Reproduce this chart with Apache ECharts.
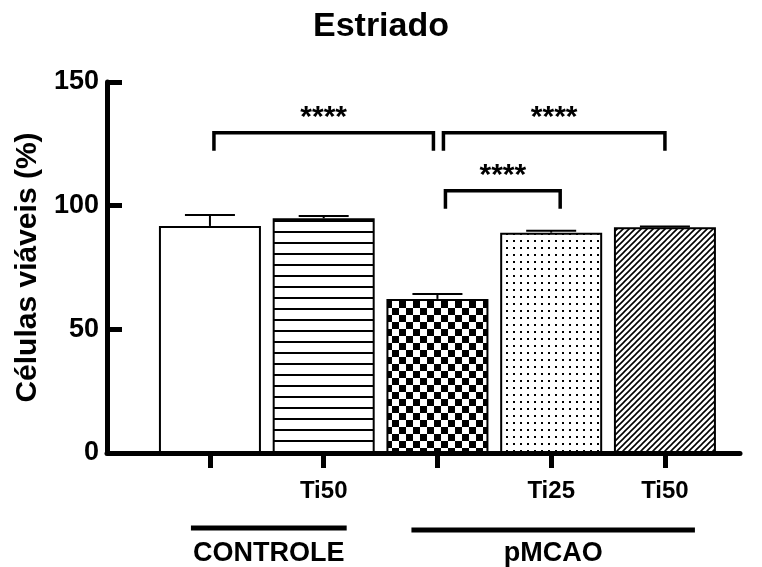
<!DOCTYPE html>
<html>
<head>
<meta charset="utf-8">
<script src="https://cdn.jsdelivr.net/npm/echarts@6/dist/echarts.min.js"></script>
<style>html,body{margin:0;padding:0;background:#fff}#c{width:762px;height:567px}</style>
</head>
<body>
<div id="c"></div>
<script>
// ---- data ----
const categories = ['', 'Ti50', '', 'Ti25', 'Ti50'];
const means = [91.8, 94.9, 62.3, 89.1, 91.3];
const sem = [4.4, 0.9, 2.0, 0.8, 0.3];
const yTicks = [0, 50, 100, 150];
const compFrom = [0, 2, 2];
const compTo = [2, 4, 3];
const compHeight = [129.5, 129.5, 106];
const compLabel = ['****', '****', '****'];
const groupNames = ['CONTROLE', 'pMCAO'];
const groupFrom = [0, 2];
const groupTo = [1, 4];
const title = 'Estriado';
const yName = 'Células viáveis (%)';

// ---- patterns ----
function mk(w, h, draw) {
  const c = document.createElement('canvas');
  c.width = w; c.height = h;
  const g = c.getContext('2d');
  g.fillStyle = '#fff'; g.fillRect(0, 0, w, h);
  g.fillStyle = '#000'; g.strokeStyle = '#000';
  draw(g, w, h);
  return c;
}
const patWhite = '#ffffff';
const patHLines = mk(11, 11, (g) => { g.fillRect(0, 0, 11, 2); });
const patCheck = mk(14, 14, (g) => { g.fillRect(0, 0, 7, 7); g.fillRect(7, 7, 7, 7); });
const patDots = mk(7, 7, (g) => { g.fillRect(2, 2, 2, 2); });
const patDiag = mk(6, 6, (g, w, h) => {
  g.lineWidth = 1.6;
  g.beginPath();
  g.moveTo(0, h); g.lineTo(w, 0);
  g.moveTo(-1, 1); g.lineTo(1, -1);
  g.moveTo(w - 1, h + 1); g.lineTo(w + 1, h - 1);
  g.stroke();
});
const fills = [patWhite, {image: patHLines, repeat: 'repeat'}, {image: patCheck, repeat: 'repeat'},
  {image: patDots, repeat: 'repeat'}, {image: patDiag, repeat: 'repeat'}];

const FONT = '"Liberation Sans", Arial, sans-serif';
const NARROW = '"Liberation Sans Narrow", "Arial Narrow", "Liberation Sans", sans-serif';
const idx = categories.map((_, i) => i);
const groupPadL = [19, 26];
const groupPadR = [23, 30];

const chart = echarts.init(document.getElementById('c'), null, {renderer: 'canvas'});
const option = {
  animation: false,
  backgroundColor: '#fff',
  title: {
    text: title, left: 'center', top: 5,
    textStyle: {fontFamily: FONT, fontWeight: 'bold', fontSize: 34, color: '#000'}
  },
  grid: {left: 107, right: 22, top: 82, bottom: 114, containLabel: false},
  xAxis: {
    type: 'value', min: -0.905, max: 4.66,
    axisLine: {show: true, onZero: false, lineStyle: {color: '#000', width: 5}},
    axisTick: {show: true, customValues: idx, length: 15, lineStyle: {color: '#000', width: 5}},
    axisLabel: {
      customValues: idx, margin: 26,
      formatter: (v) => categories[Math.round(v)] || '',
      fontFamily: NARROW, fontWeight: 'bold', fontSize: 24, color: '#000'
    },
    splitLine: {show: false}
  },
  yAxis: {
    type: 'value', min: 0, max: 150, interval: 50,
    name: yName, nameLocation: 'middle', nameGap: 62, nameRotate: 90,
    nameTextStyle: {fontFamily: FONT, fontWeight: 'bold', fontSize: 30, color: '#000'},
    axisLine: {show: true, onZero: false, lineStyle: {color: '#000', width: 5}},
    axisTick: {show: true, inside: true, length: 15, lineStyle: {color: '#000', width: 5}},
    axisLabel: {margin: 8, fontFamily: FONT, fontWeight: 'bold', fontSize: 27, color: '#000',
      formatter: (v) => yTicks.indexOf(v) >= 0 ? String(v) : ''},
    splitLine: {show: false}
  },
  series: [
    {
      type: 'bar', barWidth: 102,
      data: means.map((m, i) => ({value: [i, m], itemStyle: {color: fills[i]}})),
      itemStyle: {borderColor: '#000', borderWidth: 2},
      z: 2
    },
    {
      type: 'custom', z: 3,
      data: means.map((m, i) => [i, m, sem[i]]),
      renderItem: (params, api) => {
        const x = api.value(0), m = api.value(1), e = api.value(2);
        const p0 = api.coord([x, m]);
        const p1 = api.coord([x, m + e]);
        const hw = 25;
        return {type: 'group', children: [
          {type: 'line', shape: {x1: p0[0], y1: p0[1], x2: p1[0], y2: p1[1]}, style: {stroke: '#000', lineWidth: 2}},
          {type: 'line', shape: {x1: p1[0] - hw, y1: p1[1], x2: p1[0] + hw, y2: p1[1]}, style: {stroke: '#000', lineWidth: 2}}
        ]};
      }
    },
    {
      type: 'custom', z: 4, clip: false,
      data: compFrom.map((f, i) => [f, compTo[i], compHeight[i], i]),
      renderItem: (params, api) => {
        const i = api.value(3);
        const a = api.coord([api.value(0), api.value(2)]);
        const b = api.coord([api.value(1), api.value(2)]);
        const leftAdj = [4, 6, 8][i], rightAdj = [-4, 0, 9][i];
        const x1 = a[0] + leftAdj, x2 = b[0] + rightAdj, y = a[1];
        const drop = 18;
        return {type: 'group', children: [
          {type: 'polyline', shape: {points: [[x1, y + drop], [x1, y], [x2, y], [x2, y + drop]]},
            style: {stroke: '#000', lineWidth: 3.5, fill: null}},
          {type: 'text', x: (x1 + x2) / 2, y: y - 15,
            style: {text: compLabel[i], textAlign: 'center', textVerticalAlign: 'middle',
              font: 'bold 30px ' + FONT, fill: '#000'}}
        ]};
      }
    },
    {
      type: 'custom', z: 4, clip: false,
      data: groupFrom.map((f, i) => [f, groupTo[i], i]),
      renderItem: (params, api) => {
        const i = api.value(2);
        const a = api.coord([api.value(0), 0]);
        const b = api.coord([api.value(1), 0]);
        const x1 = a[0] - groupPadL[i], x2 = b[0] + groupPadR[i];
        const yl = a[1] + 75 + i * 2;
        return {type: 'group', children: [
          {type: 'line', shape: {x1: x1, y1: yl, x2: x2, y2: yl}, style: {stroke: '#000', lineWidth: 5}},
          {type: 'text', x: (x1 + x2) / 2, y: a[1] + 101,
            style: {text: groupNames[i], textAlign: 'center', textVerticalAlign: 'middle',
              font: 'bold 27px ' + FONT, fill: '#000'}}
        ]};
      }
    }
  ]
};
chart.setOption(option);
</script>
</body>
</html>
